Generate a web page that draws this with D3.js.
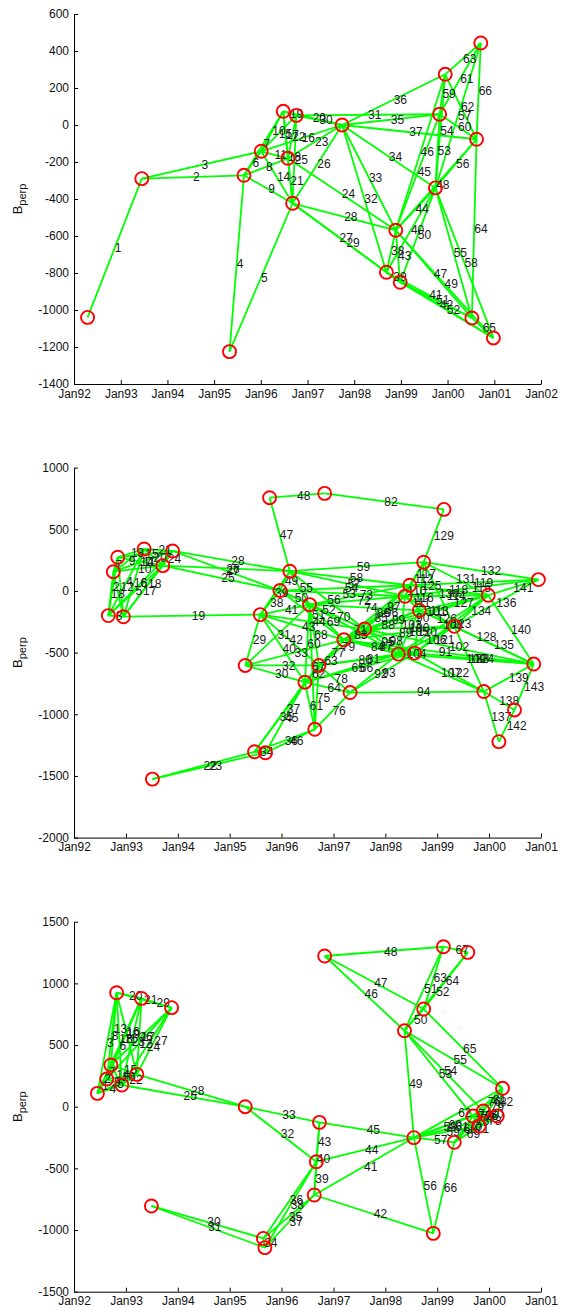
<!DOCTYPE html>
<html>
<head>
<meta charset="utf-8">
<script src="https://cdn.jsdelivr.net/npm/d3@7"></script>
<style>
  body { margin: 0; background: #fff; }
  svg text { font-family: "Liberation Sans", Arial, sans-serif; }
</style>
</head>
<body>
<svg id="fig" width="566" height="1307"></svg>
<script>
// acquisition dates (decimal years) and perpendicular baselines, one set per panel
let p1Dates = [1992.29, 1993.45, 1995.33, 1995.64, 1996.01, 1996.48, 1996.58, 1996.68, 1996.76, 1997.74,
  1998.69, 1998.89, 1998.985, 1999.74, 1999.83, 1999.95, 2000.52, 2000.62, 2000.71, 2000.98];
let p1Bperp = [-1040, -290, -1225, -272, -142, 74, -180, -423, 52, 0,
  -796, -569, -850, -340, 58, 274, -1043, -77, 443, -1151];
// [label, from, to]
let p1Pairs = [[1,0,1],[2,1,3],[3,1,4],[4,2,3],[5,2,7],[6,3,4],[7,3,5],[8,3,6],[9,3,7],[10,4,5],[11,4,6],
  [14,4,7],[15,4,8],[16,4,9],[17,5,6],[18,5,7],[19,5,8],[20,5,9],[21,6,7],[22,6,8],[23,6,9],[24,6,11],
  [25,7,8],[26,7,9],[27,7,10],[28,7,11],[29,7,12],[30,8,9],[31,8,14],[32,9,10],[33,9,11],[34,9,13],
  [35,9,14],[36,9,15],[37,9,17],[38,10,11],[39,10,12],[40,10,13],[41,10,16],[42,10,19],[43,11,12],
  [44,11,13],[45,11,14],[46,11,15],[47,11,16],[48,11,17],[49,11,19],[50,12,13],[51,12,16],[52,12,19],
  [53,13,14],[54,13,15],[55,13,16],[56,13,17],[57,13,18],[58,13,19],[59,14,15],[60,14,17],[61,14,18],
  [62,15,17],[63,15,18],[64,16,17],[65,16,19],[66,17,18]];

let p2Dates = [1992.66, 1992.757, 1992.842, 1992.95, 1993.35, 1993.51, 1993.71, 1993.90, 1995.30, 1995.48,
  1995.59, 1995.69, 1995.77, 1995.97, 1996.16, 1996.45, 1996.54, 1996.64, 1996.72, 1996.83,
  1997.20, 1997.32, 1997.60, 1998.25, 1998.38, 1998.47, 1998.565, 1998.655, 1998.74, 1999.13,
  1999.33, 1999.90, 1999.985, 2000.19, 2000.49, 2000.86, 2000.95];
let p2Bperp = [-200, 156, 273, -209, 340, -1526, 205, 324, -604, -1304,
  -192, -1312, 756, 3, 160, -740, -111, -1122, -604, 791,
  -396, -824, -309, -512, -43, 46, -504, -157, 233, 661,
  -287, -816, -35, -1222, -965, -593, 92];
let p2Pairs = [[1,0,1],[2,0,2],[3,0,3],[4,0,4],[5,0,6],[6,0,7],[7,1,2],[8,1,3],[9,1,4],[10,1,6],[11,1,7],
  [12,2,3],[13,2,4],[14,2,6],[15,2,7],[16,3,4],[17,3,6],[18,3,7],[19,3,10],[20,4,6],[21,4,7],
  [22,5,9],[23,5,11],[24,6,7],[25,6,13],[26,6,14],[27,7,13],[28,7,14],
  [29,8,10],[30,8,15],[31,8,16],[32,8,18],[33,8,20],[34,9,11],[35,9,15],[36,9,17],[37,9,18],
  [38,10,13],[39,10,14],[40,10,15],[41,10,16],[42,10,18],[43,10,20],[44,10,22],[45,11,15],[46,11,17],
  [47,12,14],[48,12,19],[49,13,14],[50,13,16],[51,13,20],[52,13,22],[53,13,24],[54,13,25],
  [55,14,16],[56,14,22],[57,14,24],[58,14,25],[59,14,28],
  [60,15,16],[61,15,17],[62,15,18],[63,15,20],[64,15,21],[65,15,23],[66,15,26],
  [67,16,17],[68,16,18],[69,16,20],[70,16,22],[71,16,23],[72,16,24],[73,16,25],[74,16,27],
  [75,17,18],[76,17,21],[77,18,20],[78,18,21],[79,18,22],[80,18,23],[81,18,26],[82,19,29],
  [83,20,22],[84,20,23],[85,20,24],[86,20,25],[87,20,26],[88,20,27],[89,20,30],[90,20,32],[91,20,35],
  [92,21,23],[93,21,26],[94,21,31],
  [95,22,23],[96,22,24],[97,22,25],[98,22,26],[99,22,27],[100,22,30],[101,22,32],[102,22,35],
  [103,23,24],[104,23,26],[105,23,27],[106,23,30],[107,23,31],[108,23,32],[109,23,35],
  [110,24,25],[111,24,27],[112,24,28],[113,24,30],[114,24,32],[115,24,36],
  [116,25,27],[117,25,28],[118,25,32],[119,25,36],
  [120,26,27],[121,26,30],[122,26,31],[123,26,32],[124,26,35],
  [125,27,28],[126,27,30],[127,27,32],[128,27,35],
  [129,28,29],[130,28,30],[131,28,32],[132,28,36],
  [133,30,31],[134,30,32],[135,30,35],[136,30,36],
  [137,31,33],[138,31,34],[139,31,35],[140,32,35],[141,32,36],[142,33,34],[143,34,35]];

let p3Dates = [1992.45, 1992.63, 1992.71, 1992.82, 1992.92, 1993.21, 1993.30, 1993.49, 1993.88, 1995.30,
  1995.65, 1995.68, 1996.63, 1996.67, 1996.73, 1996.83, 1998.37, 1998.55, 1998.74, 1998.925,
  1999.12, 1999.33, 1999.59, 1999.69, 1999.81, 1999.89, 2000.16, 2000.26];
let p3Bperp = [108, 224, 338, 924, 176, 262, 878, -805, 803, 0,
  -1068, -1143, -716, -446, -127, 1222, 616, -251, 792, -1027,
  1297, -289, 1251, -76, -157, -35, -76, 149];
let p3Pairs = [[1,0,1],[2,0,2],[3,0,3],[4,0,4],[5,0,5],[6,0,6],[7,1,2],[8,1,3],[9,1,4],[10,1,5],
  [11,1,6],[12,1,8],[13,2,3],[14,2,4],[15,2,5],[16,2,6],[17,2,8],[18,3,4],[19,3,5],[20,3,6],[21,3,8],
  [22,4,5],[23,4,6],[24,4,8],[25,4,9],[26,5,6],[27,5,8],[28,5,9],[29,6,8],[30,7,10],[31,7,11],
  [32,9,13],[33,9,14],[34,10,11],[35,10,12],[36,10,13],[37,11,12],[38,11,13],[39,12,13],[40,12,14],
  [41,12,17],[42,12,19],[43,13,14],[44,13,17],[45,14,17],[46,15,16],[47,15,18],[48,15,20],
  [49,16,17],[50,16,18],[51,16,20],[52,16,22],[53,16,23],[54,16,25],[55,16,27],
  [56,17,19],[57,17,21],[58,17,23],[59,17,24],[60,17,25],[61,17,26],[62,17,27],
  [63,18,20],[64,18,22],[65,18,27],[66,19,21],[67,20,22],
  [68,21,23],[69,21,24],[70,21,25],[71,21,26],[72,21,27],[73,23,24],[74,23,25],[75,23,26],[76,23,27],
  [77,24,25],[78,24,26],[79,24,27],[80,25,26],[81,25,27],[82,26,27]];

let panels = [
  { dates: p1Dates, bperp: p1Bperp, pairs: p1Pairs, yMin: -1400, yMax: 600, yStep: 200, lastYear: 2002, top: 14 },
  { dates: p2Dates, bperp: p2Bperp, pairs: p2Pairs, yMin: -2000, yMax: 1000, yStep: 500, lastYear: 2001, top: 467.6 },
  { dates: p3Dates, bperp: p3Bperp, pairs: p3Pairs, yMin: -1500, yMax: 1500, yStep: 500, lastYear: 2001, top: 921.7 }
];

let plotLeft = 74, plotRight = 541, plotHeight = 370;

function toDate(dy) {
  let yr = Math.floor(dy);
  let a = new Date(yr, 0, 1), b = new Date(yr + 1, 0, 1);
  return new Date(+a + (dy - yr) * (b - a));
}

let svg = d3.select('#fig');
panels.forEach(drawPanel);

function drawPanel(p) {
  let g = svg.append('g').attr('transform', 'translate(0,' + p.top + ')');

  let x = d3.scaleTime()
    .domain([new Date(1992, 0, 1), new Date(p.lastYear, 0, 1)])
    .range([plotLeft, plotRight]);
  let y = d3.scaleLinear().domain([p.yMin, p.yMax]).range([plotHeight, 0]);

  let nodes = p.dates.map(function(d, i) {
    return { x: x(toDate(d)), y: y(p.bperp[i]) };
  });
  let edges = p.pairs.map(function(e) {
    return { label: e[0], a: nodes[e[1]], b: nodes[e[2]] };
  });

  g.append('g').selectAll('line')
    .data(edges)
    .join('line')
    .attr('x1', d => d.a.x).attr('y1', d => d.a.y)
    .attr('x2', d => d.b.x).attr('y2', d => d.b.y)
    .style('stroke', '#00ff00')
    .style('stroke-width', 1.8);

  g.append('g').selectAll('text')
    .data(edges)
    .join('text')
    .attr('x', d => (d.a.x + d.b.x) / 2)
    .attr('y', d => (d.a.y + d.b.y) / 2)
    .attr('dy', '0.35em')
    .style('font-size', '12px')
    .style('fill', '#1a1a1a')
    .text(d => d.label);

  g.append('g').selectAll('circle')
    .data(nodes)
    .join('circle')
    .attr('cx', d => d.x)
    .attr('cy', d => d.y)
    .attr('r', 6.5)
    .style('fill', 'none')
    .style('stroke', '#ff0000')
    .style('stroke-width', 1.9);

  let xAxis = d3.axisBottom(x)
    .ticks(d3.timeYear.every(1))
    .tickFormat(d3.timeFormat('Jan%y'))
    .tickSizeInner(-4).tickSizeOuter(0).tickPadding(5);
  let yAxis = d3.axisLeft(y)
    .tickValues(d3.range(p.yMin, p.yMax + 1, p.yStep))
    .tickFormat(d => String(d))
    .tickSizeInner(-4).tickSizeOuter(0).tickPadding(5);

  let gx = g.append('g').attr('transform', 'translate(0,' + plotHeight + ')').call(xAxis);
  let gy = g.append('g').attr('transform', 'translate(' + plotLeft + ',0)').call(yAxis);
  [gx, gy].forEach(function(ax) {
    ax.attr('font-size', 12).attr('font-family', '"Liberation Sans", Arial, sans-serif');
    ax.selectAll('text').attr('fill', '#111');
  });

  let lab = g.append('text')
    .attr('transform', 'translate(22,' + (plotHeight / 2) + ') rotate(-90)')
    .attr('text-anchor', 'middle')
    .style('font-size', '13px')
    .style('fill', '#111');
  lab.append('tspan').text('B');
  lab.append('tspan').attr('dy', 4).style('font-size', '11px').text('perp');
}
</script>
</body>
</html>
